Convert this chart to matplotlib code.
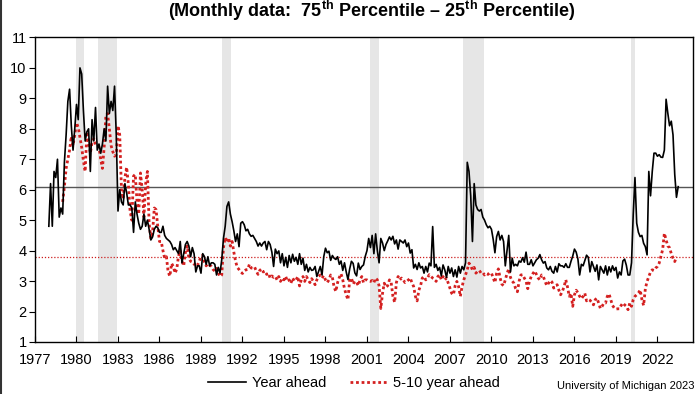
import numpy as np
import matplotlib
matplotlib.use("Agg")
import matplotlib.pyplot as plt
from matplotlib.lines import Line2D

plt.rcParams["font.family"] = ["Liberation Sans", "DejaVu Sans"]
plt.rcParams["mathtext.fontset"] = "custom"
plt.rcParams["mathtext.bf"] = "Liberation Sans:bold"
plt.rcParams["mathtext.rm"] = "Liberation Sans"

# 75th - 25th percentile spread, sampled every 1/8 year
ya_start = 1978.0
year_ahead = [
    4.8, 6.2, 4.8, 6.6, 6.4, 7.0, 5.1, 5.4,          # 1978
    5.2, 6.9, 7.8, 8.9, 9.3, 8.1, 7.3, 8.0,          # 1979
    8.8, 8.3, 10.0, 9.8, 8.6, 7.6, 7.9, 8.0,         # 1980
    6.6, 8.3, 7.6, 8.7, 7.3, 7.5, 7.2, 7.5,          # 1981
    8.0, 7.6, 9.4, 8.5, 8.9, 8.6, 9.4, 7.8,          # 1982
    5.3, 6.0, 5.6, 5.5, 6.2, 5.9, 5.5, 5.5,          # 1983
    5.4, 4.6, 5.6, 5.2, 4.9, 4.7, 4.8, 5.2,          # 1984
    4.8, 5.0, 4.7, 4.35, 4.45, 4.7, 4.8, 4.75,       # 1985
    4.6, 4.6, 4.8, 4.5, 4.4, 4.35, 4.3, 4.2,         # 1986
    4.03, 4.1, 4.0, 3.9, 4.3, 3.6, 3.9, 4.2,         # 1987
    4.3, 4.15, 3.8, 4.1, 3.9, 3.3, 3.5, 3.5,         # 1988
    3.26, 3.9, 3.8, 3.55, 3.8, 3.5, 3.6, 3.6,        # 1989
    3.55, 3.2, 3.45, 3.26, 3.7, 4.4, 4.8, 5.45,      # 1990
    5.6, 5.2, 4.95, 4.65, 4.3, 4.55, 4.13, 4.9,      # 1991
    4.95, 4.85, 4.65, 4.7, 4.55, 4.47, 4.5, 4.4,     # 1992
    4.3, 4.15, 4.25, 4.15, 4.25, 4.3, 4.03, 4.3,     # 1993
    4.2, 3.95, 3.48, 4.05, 3.9, 3.99, 3.6, 3.9,      # 1994
    3.5, 3.78, 3.45, 3.84, 3.6, 3.88, 3.65, 3.78,    # 1995
    3.55, 3.9, 3.55, 3.75, 3.35, 3.55, 3.3, 3.45,    # 1996
    3.35, 3.37, 3.48, 3.15, 3.32, 3.48, 3.2, 3.8,    # 1997
    4.08, 3.93, 3.98, 3.68, 3.84, 3.75, 3.71, 3.8,   # 1998
    3.55, 3.66, 3.35, 3.6, 3.3, 3.05, 3.4, 3.65,     # 1999
    3.58, 3.27, 3.17, 3.59, 3.38, 3.48, 3.53, 3.81,  # 2000
    4.0, 4.4, 4.1, 4.5, 3.9, 4.55, 4.0, 3.6,         # 2001
    4.4, 4.25, 4.0, 4.2, 4.32, 4.45, 4.35, 4.47,     # 2002
    4.22, 4.35, 4.05, 4.35, 4.3, 4.25, 4.35, 4.13,   # 2003
    4.25, 3.92, 4.03, 3.43, 3.55, 3.38, 3.6, 3.43,   # 2004
    3.48, 3.26, 3.48, 3.3, 3.59, 3.5, 4.79, 3.45,    # 2005
    3.55, 3.35, 3.45, 3.17, 3.53, 3.37, 3.12, 3.48,  # 2006
    3.26, 3.43, 3.15, 3.37, 3.13, 3.48, 3.26, 3.48,  # 2007
    3.37, 3.6, 6.9, 6.6, 5.8, 4.3, 6.2, 5.5,         # 2008
    5.35, 5.3, 5.35, 5.1, 5.0, 4.85, 4.75, 4.8,      # 2009
    4.7, 4.37, 3.93, 4.46, 4.63, 4.35, 4.5, 4.3,     # 2010
    3.5, 4.0, 4.5, 3.3, 3.75, 3.5, 3.55, 3.5,        # 2011
    3.66, 3.62, 3.77, 3.62, 3.95, 3.55, 3.55, 3.7,   # 2012
    3.5, 3.6, 3.7, 3.75, 3.87, 3.7, 3.59, 3.64,      # 2013
    3.43, 3.37, 3.48, 3.32, 3.26, 3.48, 3.3, 3.57,   # 2014
    3.5, 3.5, 3.45, 3.57, 3.45, 3.45, 3.65, 3.82,    # 2015
    4.05, 3.95, 3.72, 3.2, 3.55, 3.5, 3.68, 3.85,    # 2016
    3.78, 3.3, 3.64, 3.48, 3.32, 3.53, 3.04, 3.48,   # 2017
    3.37, 3.26, 3.5, 3.2, 3.47, 3.3, 3.5, 3.35,      # 2018
    3.45, 3.1, 3.3, 3.2, 3.66, 3.72, 3.52, 3.2,      # 2019
    3.2, 3.6, 5.2, 6.4, 4.9, 4.6, 4.46, 4.5,         # 2020
    4.24, 4.13, 3.86, 6.6, 5.8, 6.6, 7.2, 7.2,       # 2021
    7.1, 7.15, 7.07, 7.06, 7.3, 8.97, 8.51, 8.1,     # 2022
    8.25, 7.8, 6.5, 5.75, 6.1,                       # 2023
]

lr_start = 1979.0
long_run = [
    5.6, 6.1, 6.7, 7.0, 7.3, 7.75, 7.45, 7.8,        # 1979
    8.2, 8.05, 7.72, 7.39, 6.95, 6.6, 7.9, 7.55,     # 1980
    7.2, 7.55, 7.68, 7.48, 7.42, 7.4, 7.0, 6.7,      # 1981
    7.4, 8.45, 8.5, 8.0, 7.45, 7.25, 7.1, 7.15,      # 1982
    8.1, 7.8, 6.0, 5.7, 6.4, 6.74, 6.19, 5.3,        # 1983
    5.0, 6.45, 6.5, 5.6, 5.2, 6.55, 6.0, 5.1,        # 1984
    6.2, 6.6, 4.9, 4.4, 4.6, 5.4, 5.35, 4.8,         # 1985
    4.3, 4.3, 4.0, 3.75, 3.8, 3.3, 3.16, 3.58,       # 1986
    3.48, 3.26, 3.4, 3.82, 4.0, 3.66, 3.5, 3.95,     # 1987
    4.15, 3.75, 3.65, 3.62, 3.55, 3.6, 3.52, 3.65,   # 1988
    3.8, 3.85, 3.62, 3.5, 3.57, 3.52, 3.48, 3.38,    # 1989
    3.33, 3.42, 3.26, 3.15, 3.2, 4.1, 4.43, 4.27,    # 1990
    4.42, 4.15, 4.3, 3.95, 3.65, 3.45, 3.38, 3.3,    # 1991
    3.25, 3.33, 3.37, 3.38, 3.55, 3.43, 3.42, 3.46,  # 1992
    3.33, 3.22, 3.35, 3.4, 3.3, 3.33, 3.22, 3.26,    # 1993
    3.1, 3.17, 3.12, 3.15, 3.04, 3.15, 2.99, 3.1,    # 1994
    3.04, 3.15, 2.99, 3.04, 2.93, 3.1, 3.0, 3.04,    # 1995
    3.15, 2.84, 3.04, 3.15, 2.99, 3.15, 3.04, 2.95,  # 1996
    3.08, 2.99, 2.88, 3.04, 3.15, 3.2, 3.1, 3.18,    # 1997
    3.04, 2.95, 3.04, 3.2, 3.12, 2.8, 2.66, 2.95,    # 1998
    3.12, 3.24, 3.04, 2.75, 2.55, 2.39, 3.04, 3.1,   # 1999
    2.9, 3.0, 2.95, 2.85, 3.04, 3.15, 2.95, 3.04,    # 2000
    3.04, 3.0, 2.99, 3.02, 2.95, 3.1, 3.04, 2.85,    # 2001
    2.1, 2.6, 2.93, 2.8, 2.85, 3.04, 2.95, 2.5,      # 2002
    2.3, 2.95, 3.15, 3.04, 3.1, 3.04, 2.95, 2.99,    # 2003
    3.04, 3.1, 2.95, 2.82, 2.5, 2.35, 2.7, 2.85,     # 2004
    3.1, 3.15, 3.04, 3.1, 3.21, 3.15, 3.1, 3.07,     # 2005
    2.99, 3.15, 3.21, 3.04, 3.15, 3.04, 3.1, 2.93,   # 2006
    2.76, 2.6, 2.55, 2.85, 2.99, 2.82, 2.5, 2.82,    # 2007
    3.04, 3.2, 3.37, 3.59, 3.5, 3.37, 3.45, 3.26,    # 2008
    3.32, 3.35, 3.26, 3.28, 3.2, 3.25, 3.22, 3.27,   # 2009
    3.26, 3.1, 2.95, 3.26, 3.4, 3.1, 2.9, 2.85,      # 2010
    3.04, 3.25, 3.4, 3.12, 3.0, 2.93, 2.75, 2.65,    # 2011
    3.0, 3.2, 3.21, 3.1, 3.0, 2.75, 3.0, 3.15,       # 2012
    3.25, 3.33, 3.22, 3.1, 3.04, 3.2, 3.15, 2.99,    # 2013
    2.85, 2.93, 3.02, 2.97, 2.77, 2.85, 2.88, 2.7,   # 2014
    2.55, 2.66, 2.82, 3.04, 2.8, 2.5, 2.6, 2.17,     # 2015
    2.55, 2.7, 2.62, 2.5, 2.42, 2.5, 2.6, 2.35,      # 2016
    2.4, 2.37, 2.3, 2.22, 2.39, 2.44, 2.28, 2.1,     # 2017
    2.17, 2.28, 2.28, 2.5, 2.58, 2.39, 2.2, 2.12,    # 2018
    2.08, 2.09, 2.09, 2.2, 2.28, 2.22, 2.17, 2.06,   # 2019
    2.28, 2.17, 2.39, 2.5, 2.55, 2.61, 2.71, 2.4,    # 2020
    2.2, 2.75, 2.99, 3.15, 3.3, 3.37, 3.35, 3.43,    # 2021
    3.48, 3.59, 3.81, 4.03, 4.57, 4.35, 4.15, 4.1,   # 2022
    3.9, 3.75, 3.64, 3.8,                            # 2023
]

recessions = [(1980.0, 1980.55), (1981.55, 1982.9), (1990.55, 1991.2),
              (2001.2, 2001.9), (2007.95, 2009.45), (2020.1, 2020.35)]

ya_avg = 6.1
lr_avg = 3.8

year_ticks = list(range(1977, 2023, 3))

t_ya = ya_start + np.arange(len(year_ahead)) / 8
t_lr = lr_start + np.arange(len(long_run)) / 8

fig = plt.figure(figsize=(7, 3.94), dpi=100)
ax = fig.add_axes([0.05, 0.132, 0.9396, 0.773])

for a, b in recessions:
    ax.axvspan(a, b, color="#e6e6e6", lw=0, zorder=0)

ax.axhline(ya_avg, color="#555555", lw=1.0, zorder=1)
ax.axhline(lr_avg, color="#cc1f1f", lw=0.9, ls=(0, (1, 1.5)), zorder=1)

ax.plot(t_ya, year_ahead, color="black", lw=1.2, zorder=3, label="Year ahead")
ax.plot(t_lr, long_run, color="#d42020", lw=2.0, ls=(0, (1, 1)),
        zorder=2, label="5-10 year ahead")

ax.set_xlim(1977, 2024.55)
ax.set_ylim(1, 11)
ax.set_yticks(range(1, 12))
ax.set_xticks(year_ticks)
ax.tick_params(axis="y", direction="out", length=4, labelsize=10.5, pad=2)
ax.tick_params(axis="x", direction="in", length=4, labelsize=10.5, pad=8)
for s in ax.spines.values():
    s.set_linewidth(1.0)
    s.set_color("black")

fig.text(0.531, 0.972,
         r"(Monthly data:  75$^{\mathbf{th}}$ Percentile – 25$^{\mathbf{th}}$ Percentile)",
         ha="center", va="center", fontsize=13, fontweight="bold")

fig.legend(loc="center", bbox_to_anchor=(0.506, 0.027), ncol=2, frameon=False,
           fontsize=10.5, handlelength=2.6, handletextpad=0.4, columnspacing=1.6)

fig.text(0.992, 0.008, "University of Michigan 2023", ha="right", va="bottom",
         fontsize=8)

fig.add_artist(Line2D([0.001, 0.001], [0, 1], color="#333333", lw=1.5,
                      transform=fig.transFigure))

fig.savefig("out.png", dpi=100)
